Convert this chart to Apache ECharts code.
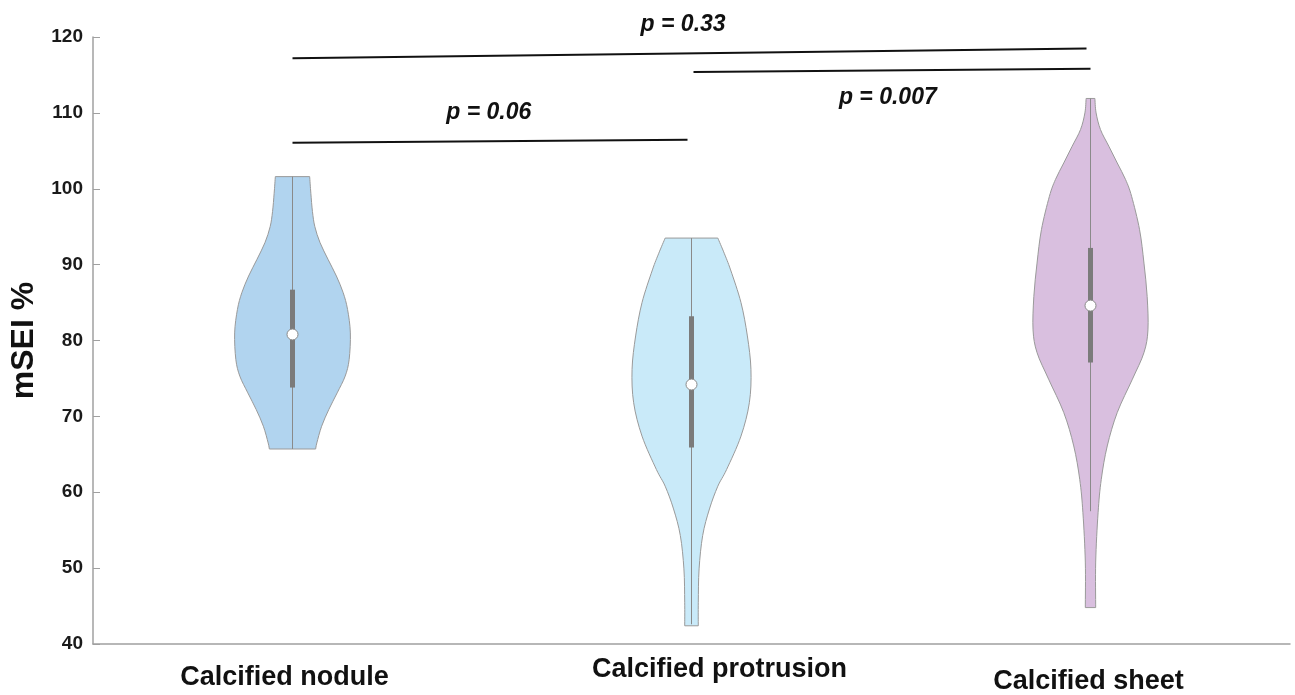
<!DOCTYPE html>
<html>
<head>
<meta charset="utf-8">
<script src="https://cdn.jsdelivr.net/npm/echarts@6/dist/echarts.min.js"></script>
<style>
html,body{margin:0;padding:0;background:#fff;}
#chart{width:1295px;height:695px;}
</style>
</head>
<body>
<div id="chart"></div>
<script>
// ---------------- data ----------------
const categories = ['Calcified nodule', 'Calcified protrusion', 'Calcified sheet'];
const yTicks = [40, 50, 60, 70, 80, 90, 100, 110, 120];

// violin outlines: [mSEI value, half-width of density in x-axis units], top to bottom
const noduleDensity = [
  [101.6, 0.043], [99.4, 0.046], [97.0, 0.050], [95.0, 0.056], [92.9, 0.069], [90.7, 0.089],
  [88.5, 0.110], [86.3, 0.127], [84.1, 0.138], [81.0, 0.145], [77.5, 0.142],
  [75.3, 0.132], [73.1, 0.112], [70.9, 0.091], [68.7, 0.073], [66.5, 0.061], [65.7, 0.058]
];
const protrusionDensity = [
  [93.5, 0.066], [91.5, 0.082], [89.3, 0.098], [85.0, 0.124], [80.6, 0.140],
  [76.2, 0.149], [71.8, 0.145], [67.4, 0.124], [63.0, 0.088], [60.8, 0.066],
  [57.8, 0.045], [54.3, 0.028], [49.9, 0.019], [45.5, 0.017], [42.4, 0.017]
];
const sheetDensity = [
  [111.9, 0.011], [110.0, 0.014], [107.8, 0.025], [105.6, 0.046], [103.4, 0.067],
  [101.2, 0.088], [99.0, 0.103], [94.6, 0.123], [90.2, 0.134], [85.8, 0.142],
  [81.4, 0.144], [78.4, 0.134], [74.9, 0.105], [70.5, 0.067], [66.1, 0.042],
  [61.7, 0.027], [57.3, 0.019], [50.8, 0.013], [44.8, 0.013]
];

// box statistics: [whisker low, q1, median, q3, whisker high]
const noduleBox = [65.7, 73.8, 80.8, 86.7, 101.6];
const protrusionBox = [42.6, 65.9, 74.2, 83.2, 93.5];
const sheetBox = [57.5, 77.1, 84.6, 92.2, 111.9];

// significance brackets: [x1, y1, x2, y2] in axis units, text anchor [x, y], label
const pLabels = ['p = 0.33', 'p = 0.06', 'p = 0.007'];
const pLines = [
  [0.5, 117.2, 2.49, 118.5],
  [0.5, 106.05, 1.49, 106.45],
  [1.505, 115.4, 2.5, 115.8]
];
const pTextAnchors = [
  [1.479, 121.6],
  [0.992, 110.0],
  [1.992, 112.0]
];

// ---------------- styles ----------------
const densities = [noduleDensity, protrusionDensity, sheetDensity];
const boxes = [noduleBox, protrusionBox, sheetBox];
const fills = ['#b1d4ef', '#c9eaf9', '#d9bfdf'];
const FONT = '"Liberation Sans", Arial, Helvetica, sans-serif';

function catmull(pts) {
  let d = '';
  for (let i = 0; i < pts.length - 1; i++) {
    const p0 = pts[Math.max(i - 1, 0)];
    const p1 = pts[i];
    const p2 = pts[i + 1];
    const p3 = pts[Math.min(i + 2, pts.length - 1)];
    const c1 = [p1[0] + (p2[0] - p0[0]) / 6, p1[1] + (p2[1] - p0[1]) / 6];
    const c2 = [p2[0] - (p3[0] - p1[0]) / 6, p2[1] - (p3[1] - p1[1]) / 6];
    d += ' C' + c1[0] + ' ' + c1[1] + ' ' + c2[0] + ' ' + c2[1] + ' ' + p2[0] + ' ' + p2[1];
  }
  return d;
}

function renderViolin(params, api) {
  const i = api.value(0);
  const xc = i + 0.5;
  const prof = densities[i];
  const right = prof.map(p => api.coord([xc + p[1], p[0]]));
  const left = prof.slice().reverse().map(p => api.coord([xc - p[1], p[0]]));
  let d = 'M' + right[0][0] + ' ' + right[0][1] + catmull(right);
  d += ' L' + left[0][0] + ' ' + left[0][1] + catmull(left) + ' Z';
  const b = boxes[i];
  const lo = api.coord([xc, b[0]]);
  const q1 = api.coord([xc, b[1]]);
  const med = api.coord([xc, b[2]]);
  const q3 = api.coord([xc, b[3]]);
  const hi = api.coord([xc, b[4]]);
  return {
    type: 'group',
    children: [
      { type: 'path', shape: { pathData: d }, style: { fill: fills[i], stroke: '#9a9a9a', lineWidth: 1 } },
      { type: 'line', shape: { x1: lo[0], y1: lo[1], x2: hi[0], y2: hi[1] }, style: { stroke: '#8a8a8a', lineWidth: 1 } },
      { type: 'rect', shape: { x: q3[0] - 2.5, y: q3[1], width: 5, height: q1[1] - q3[1] }, style: { fill: '#7b7b7b' } },
      { type: 'circle', shape: { cx: med[0], cy: med[1], r: 5.5 }, style: { fill: '#ffffff', stroke: '#8a8a8a', lineWidth: 1 } }
    ]
  };
}

function renderBracket(params, api) {
  const k = params.dataIndex;
  const l = pLines[k];
  const a = api.coord([l[0], l[1]]);
  const b = api.coord([l[2], l[3]]);
  const t = api.coord(pTextAnchors[k]);
  return {
    type: 'group',
    children: [
      { type: 'line', shape: { x1: a[0], y1: a[1], x2: b[0], y2: b[1] }, style: { stroke: '#111', lineWidth: 2 } },
      { type: 'text', x: t[0], y: t[1], style: {
          text: pLabels[k], fill: '#111', font: 'italic bold 23px ' + FONT,
          align: 'center', verticalAlign: 'middle' } }
    ]
  };
}

const labelRich = {
  a: { fontSize: 27, fontWeight: 'bold', fontFamily: FONT, color: '#111', padding: [8, 16, 0, 0] },
  b: { fontSize: 27, fontWeight: 'bold', fontFamily: FONT, color: '#111', padding: [0, 0, 0, 56] },
  c: { fontSize: 27, fontWeight: 'bold', fontFamily: FONT, color: '#111', padding: [12, 4, 0, 0] }
};
const richKeys = ['a', 'b', 'c'];

const chart = echarts.init(document.getElementById('chart'), null, { renderer: 'canvas' });
chart.setOption({
  animation: false,
  backgroundColor: '#ffffff',
  grid: { left: 93, right: 5, top: 37, bottom: 50, containLabel: false },
  xAxis: {
    type: 'value', min: 0, max: 3,
    axisLine: { show: true, lineStyle: { color: '#a0a0a0', width: 1.5 } },
    axisTick: { show: false },
    splitLine: { show: false },
    axisLabel: {
      customValues: [0.5, 1.5, 2.5],
      margin: 12,
      formatter: function (v) {
        const i = Math.round(v - 0.5);
        return '{' + richKeys[i] + '|' + categories[i] + '}';
      },
      rich: labelRich
    }
  },
  yAxis: {
    type: 'value', min: yTicks[0], max: yTicks[yTicks.length - 1], interval: 10,
    name: 'mSEI %', nameLocation: 'middle', nameGap: 52,
    nameTextStyle: { fontSize: 32, fontWeight: 'bold', fontFamily: FONT, color: '#111' },
    axisLine: { show: true, lineStyle: { color: '#a0a0a0', width: 1.5 } },
    axisTick: { show: true, inside: true, length: 7, lineStyle: { color: '#a0a0a0' } },
    splitLine: { show: false },
    axisLabel: { fontSize: 19, fontWeight: 'bold', fontFamily: FONT, color: '#1a1a1a', margin: 10 }
  },
  series: [
    { type: 'custom', renderItem: renderViolin, data: [[0], [1], [2]], clip: false, silent: true },
    { type: 'custom', renderItem: renderBracket, data: pLines.map((l, k) => [k]), clip: false, silent: true }
  ]
});
</script>
</body>
</html>
